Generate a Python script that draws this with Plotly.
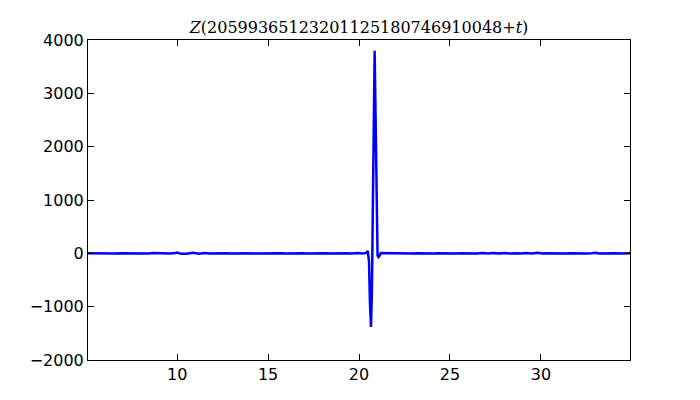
import plotly.graph_objects as go

t_vals = [5.1, 5.4, 5.7, 6.0, 6.3, 6.6, 6.9, 7.2, 7.5, 7.8, 8.1, 8.4, 8.7, 9.0, 9.3, 9.6, 9.9, 10.0, 10.2,
          10.5, 10.8, 10.9, 11.2, 11.5, 11.8, 12.1, 12.4, 12.7, 13.0, 13.3, 13.6, 13.9, 14.2, 14.5, 14.8,
          15.1, 15.4, 15.7, 16.0, 16.3, 16.6, 16.9, 17.2, 17.5, 17.8, 18.1, 18.4, 18.7, 19.0, 19.3, 19.6,
          19.9, 20.2, 20.4, 20.48, 20.55, 20.6, 20.66, 20.71, 20.76, 20.81, 20.86, 20.91, 20.96, 21.02,
          21.07, 21.12, 21.2, 21.4, 21.7,
          22.0, 22.3, 22.6, 22.9, 23.2, 23.5, 23.8, 24.1, 24.4, 24.7, 25.0, 25.3, 25.6, 25.9, 26.2, 26.5,
          26.8, 27.1, 27.4, 27.7, 28.0, 28.3, 28.6, 28.9, 29.2, 29.5, 29.8, 30.1, 30.4, 30.7, 31.0, 31.3,
          31.6, 31.9, 32.2, 32.5, 32.8, 33.0, 33.2, 33.5, 33.8, 34.1, 34.4, 34.7, 34.9]
z_vals = [1, -2, 2, -1, 2, -2, 1, -2, 3, -3, 2, -3, 4, -3, 3, -4, 5, 14, -6,
          -8, 7, 12, -7, 5, -3, 2, -2, 2, -2, 2, -2, 2, -2, 1, -2,
          2, -2, 3, -2, 2, -2, 3, -3, 2, -2, 2, -2, 2, -3, 3, -4,
          4, -5, 10, 45, -150, -900, -1380, -700, 500, 2400, 3800, 2600, 900, -40,
          -70, -50, 4, 2, -2,
          2, -2, 2, -2, 2, -2, 2, -2, 3, -2, 2, -2, 3, -3, 2, -4,
          4, -3, 5, -4, 4, -5, 3, -4, 5, -4, 12, -3, 3, -2, 2, -3,
          2, -2, 3, -2, 3, 10, -3, 2, -2, 2, -1, 2, 1]

x_ticks = [10, 15, 20, 25, 30]
y_ticks = [-2000, -1000, 0, 1000, 2000, 3000, 4000]
y_tick_text = ["\u22122000", "\u22121000", "0", "1000", "2000", "3000", "4000"]

fig = go.Figure()
fig.add_trace(go.Scatter(x=t_vals, y=z_vals, mode="lines",
                         line=dict(color="#0000ff", width=2.5), showlegend=False))

axis_common = dict(showgrid=False, zeroline=False, showline=True, linecolor="black", linewidth=1,
                   mirror="ticks", ticks="inside", ticklen=6, tickcolor="black",
                   tickfont=dict(family="DejaVu Sans", size=16, color="black"))

fig.update_xaxes(range=[5.1, 34.9], tickvals=x_ticks, **axis_common)
fig.update_yaxes(range=[-2000, 4000], tickvals=y_ticks, ticktext=y_tick_text, **axis_common)

fig.update_layout(
    width=692, height=392,
    margin=dict(l=80, r=70, t=32, b=40),
    paper_bgcolor="white", plot_bgcolor="white",
    title=dict(text="<i>Z</i>(20599365123201125180746910048+<i>t</i>)",
               x=0.5, xref="paper", y=0.95, yref="container", yanchor="middle",
               font=dict(family="DejaVu Serif", size=16, color="black")),
)

fig.write_html("out.html")
